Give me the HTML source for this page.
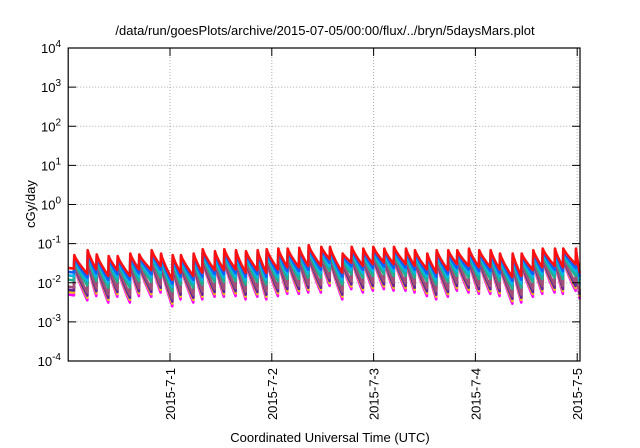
<!DOCTYPE html>
<html><head><meta charset="utf-8"><style>
body{margin:0;background:#fff;}
svg{display:block;font-family:"Liberation Sans",sans-serif;}
</style></head><body>
<svg id="chart" width="640" height="448" viewBox="0 0 640 448" xmlns="http://www.w3.org/2000/svg">
<rect width="640" height="448" fill="#fff"/>
<text x="325" y="35" font-size="13" text-anchor="middle">/data/run/goesPlots/archive/2015-07-05/00:00/flux/../bryn/5daysMars.plot</text>
<text transform="translate(35,204) rotate(-90)" font-size="13" text-anchor="middle">cGy/day</text>
<text x="330" y="442" font-size="13" text-anchor="middle">Coordinated Universal Time (UTC)</text>
<g id="grid"></g>
<g id="series"></g>
<g id="axes"></g>
</svg>
<script>
const spikeHours=[1.44,4.60,6.72,9.55,11.67,14.64,16.76,19.69,21.88,24.64,26.59,29.59,31.71,34.61,36.80,39.56,41.92,44.68,46.80,49.53,51.75,54.48,56.70,59.67,61.72,64.72,66.84,69.57,71.93,74.52,76.81,79.64,81.76,84.66,86.87,89.61,91.73,94.49,96.92,99.61,101.80,104.80,106.92,109.65,111.87,114.77,116.73,119.72];
const peakValues=[.051,.068,.053,.048,.048,.056,.053,.068,.056,.051,.051,.056,.072,.064,.072,.068,.064,.068,.072,.075,.075,.078,.091,.083,.083,.056,.083,.075,.083,.075,.083,.075,.068,.056,.068,.068,.068,.075,.068,.068,.056,.056,.056,.068,.075,.075,.075,.075];
const troughValues=[.017,.022,.015,.021,.015,.022,.021,.027,.012,.018,.015,.018,.021,.021,.022,.018,.021,.018,.022,.025,.025,.027,.027,.040,.018,.033,.027,.030,.033,.030,.030,.027,.022,.018,.021,.030,.027,.025,.025,.022,.014,.015,.021,.025,.027,.025,.030,.018];
const startValue=0.024;
const seriesNames=["red","blue","cyan","teal","mauve","purple","yellow","magenta"];
const seriesColors=["#ff1010","#1060ff","#00b8e8","#20b090","#a05078","#6020a0","#f0d000","#ff00ff"];
const peakOffsetsLog=[0,-0.04,-0.08,-0.13,-0.19,-0.23,-0.25,-0.27];
const troughOffsetsLog=[0,-0.1,-0.19,-0.3,-0.48,-0.56,-0.61,-0.68];
const yTickExp=[4,3,2,1,0,-1,-2,-3,-4];
const xTickLabels=["2015-7-1","2015-7-2","2015-7-3","2015-7-4","2015-7-5"];
const xTickHours=[24,48,72,96,120];
const L=68.2,R=580,T=48,B=361,endHour=120.7;
const xs=h=>L+h/24*101.8;
const ys=v=>T+(4-Math.log10(v))*(B-T)/8;
const NS="http://www.w3.org/2000/svg";
function mk(tag,attrs,parent){const e=document.createElementNS(NS,tag);for(const k in attrs)e.setAttribute(k,attrs[k]);parent.appendChild(e);return e;}
const grid=document.getElementById('grid'),axes=document.getElementById('axes'),ser=document.getElementById('series');
yTickExp.forEach(p=>{const y=ys(Math.pow(10,p));
 if(p<4&&p>-4){const g=mk('line',{x1:L,x2:R,y1:y,y2:y,stroke:"#aaa","stroke-dasharray":"1,2","stroke-width":1},grid);
 }
 const t1=mk('line',{x1:L,x2:L+8,y1:y,y2:y,stroke:"#000","stroke-width":1},axes);
 
 const t2=mk('line',{x1:R-8,x2:R,y1:y,y2:y,stroke:"#000","stroke-width":1},axes);
 
 const tx=mk('text',{x:61,y:y+5,"font-size":13,"text-anchor":"end"},axes);
 
 tx.innerHTML='10<tspan dy="-6" font-size="10">'+p+'</tspan>';
});
xTickHours.forEach((h,i)=>{const x=xs(h);
 const g=mk('line',{x1:x,x2:x,y1:T,y2:B,stroke:"#aaa","stroke-dasharray":"1,2","stroke-width":1},grid);
 
 const t1=mk('line',{x1:x,x2:x,y1:B-8,y2:B,stroke:"#000"},axes);
 
 const t2=mk('line',{x1:x,x2:x,y1:T,y2:T+8,stroke:"#000"},axes);
 
 const tx=mk('text',{transform:"translate("+(x+5)+",368) rotate(-90)","font-size":13,"text-anchor":"end"},axes);
 
 tx.textContent=xTickLabels[i];
});
const fr=mk('rect',{x:L,y:T,width:R-L,height:B-T,fill:"none",stroke:"#000","stroke-width":1.2},axes);

for(let s=seriesNames.length-1;s>=0;s--){
 const nm=seriesNames[s];
 const pts=[];
 const pk=i=>Math.log10(peakValues[i])+peakOffsetsLog[s];
 const tr=i=>Math.log10(troughValues[i])+troughOffsetsLog[s];
 const s0=Math.log10(startValue)+troughOffsetsLog[s];
 pts.push([xs(0),s0]);pts.push([xs(spikeHours[0]-0.1),s0-0.02]);
 for(let i=0;i<spikeHours.length;i++){
  const h0=spikeHours[i],h1=(i+1<spikeHours.length?spikeHours[i+1]:endHour)-0.1;
  const a=pk(i),b=tr(i);
  for(let k=0;k<=12;k++){const f=k/12;const h=h0+(h1-h0)*f;pts.push([xs(h),a+(b-a)*Math.pow(f,0.8)]);}
 }
 const d=pts.map((p,j)=>(j?'L':'M')+Math.min(p[0],R).toFixed(1)+','+ys(Math.pow(10,p[1])).toFixed(1)).join('');
 const pl=mk('path',{d:d,fill:"none",stroke:seriesColors[s],"stroke-width":2.6,"stroke-linejoin":"round"},ser);
 
 
}
</script>
</body></html>
